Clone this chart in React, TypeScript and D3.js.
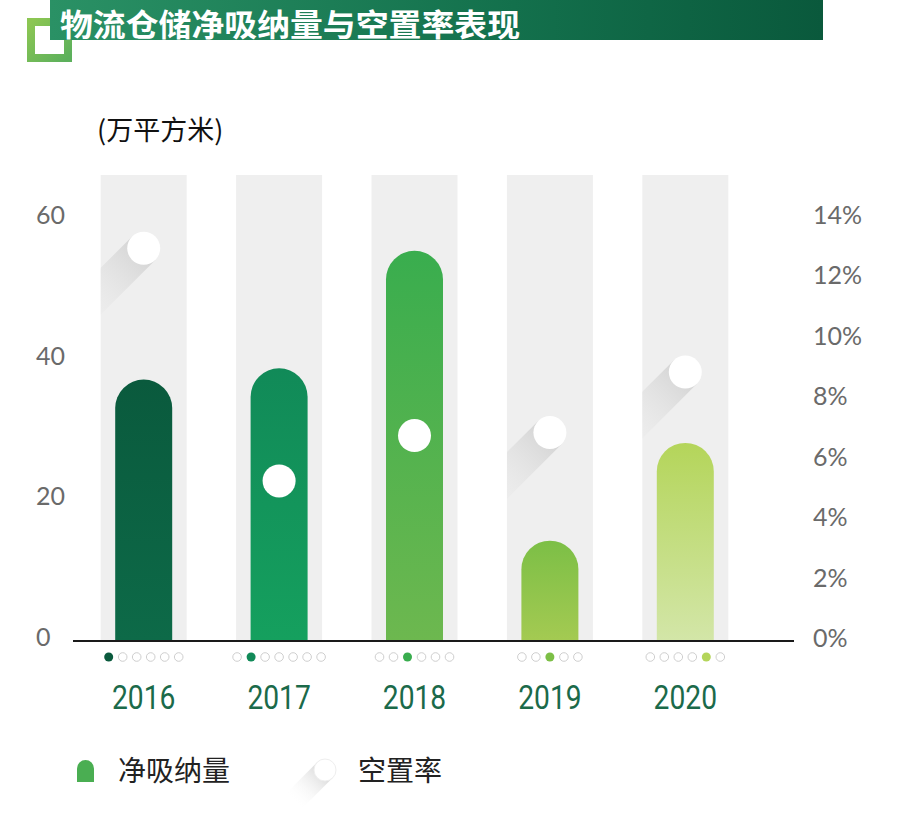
import React from "react";
import * as d3 from "d3";

const years = ["2016", "2017", "2018", "2019", "2020"];
const absorption = [36.6, 38.2, 54.9, 13.7, 27.6];
const vacancy = [12.9, 5.2, 6.7, 6.8, 8.8];
const leftTicks = [0, 20, 40, 60];
const rightTicks = [0, 2, 4, 6, 8, 10, 12, 14];
const barTop = ["#0a5a3d", "#118a58", "#39ad4e", "#7cbf46", "#b4d55a"];
const barBottom = ["#0d6a48", "#15a05e", "#6db84f", "#a4ca52", "#d3e6a8"];
const dotCounts = [6, 7, 6, 5, 6];
const dotActive = [0, 1, 2, 2, 4];
const title = "物流仓储净吸纳量与空置率表现";
const unitLabel = "(万平方米)";
const legendBar = "净吸纳量";
const legendDot = "空置率";

const W = 900;
const H = 837;
const axisY = 641;
const colTop = 175;
const colW = 86;
const barW = 57;
const circR = 16.5;
const sq = Math.SQRT1_2;

function roundTopPath(cx: number, w: number, yTop: number, yBot: number) {
  const r = w / 2;
  const x0 = cx - r;
  const x1 = cx + r;
  const p = d3.path();
  p.moveTo(x0, yBot);
  p.lineTo(x0, yTop + r);
  p.arc(cx, yTop + r, r, Math.PI, 0, false);
  p.lineTo(x1, yBot);
  p.closePath();
  return p.toString();
}

function shadowPts(cx: number, cy: number, r: number, L: number) {
  const nx = r * sq, ny = r * sq;
  const dx = -L * sq, dy = L * sq;
  return [
    [cx + nx, cy + ny],
    [cx + nx + dx, cy + ny + dy],
    [cx - nx + dx, cy - ny + dy],
    [cx - nx, cy - ny],
  ]
    .map((p) => p.join(","))
    .join(" ");
}

export default function App() {
  const x = d3.scaleBand<string>().domain(years).range([76, 753]).paddingInner(0).paddingOuter(0);
  const cxOf = (y: string) => (x(y) as number) + x.bandwidth() / 2;
  const yL = d3.scaleLinear().domain([0, 60]).range([637, 215]);
  const yR = d3.scaleLinear().domain([0, 14]).range([638, 215]);
  const L = 110;
  const cjk = "'Noto Sans CJK SC', 'Noto Sans', sans-serif";

  return (
    <svg width={W} height={H} style={{ display: "block", position: "absolute", left: 0, top: 0 }}>
      <defs>
        <linearGradient id="titleGrad" x1="0" x2="1" y1="0" y2="0">
          <stop offset="0" stopColor="#2a9165" />
          <stop offset="0.6" stopColor="#13704c" />
          <stop offset="1" stopColor="#0a593c" />
        </linearGradient>
        <linearGradient id="frameGrad" x1="0" x2="1" y1="0" y2="1">
          <stop offset="0" stopColor="#8cc653" />
          <stop offset="1" stopColor="#5cb05c" />
        </linearGradient>
        {years.map((y, i) => (
          <linearGradient key={y} id={`bar${i}`} x1="0" x2="0" y1="0" y2="1">
            <stop offset="0" stopColor={barTop[i]} />
            <stop offset="1" stopColor={barBottom[i]} />
          </linearGradient>
        ))}
        {years.map((y, i) => {
          const cx = cxOf(y);
          return (
            <clipPath key={y} id={`col${i}`}>
              <rect x={cx - colW / 2} y={colTop} width={colW} height={axisY - colTop} />
            </clipPath>
          );
        })}
        {years.map((y, i) => {
          const cx = cxOf(y);
          const cy = yR(vacancy[i]);
          return (
            <linearGradient
              key={y}
              id={`sh${i}`}
              gradientUnits="userSpaceOnUse"
              x1={cx}
              y1={cy}
              x2={cx - L * sq}
              y2={cy + L * sq}
            >
              <stop offset="0" stopColor="#d2d2d2" stopOpacity="0.95" />
              <stop offset="1" stopColor="#efefef" stopOpacity="0" />
            </linearGradient>
          );
        })}
        <linearGradient id="shLeg" gradientUnits="userSpaceOnUse" x1={325} y1={770} x2={325 - 45 * sq} y2={770 + 45 * sq}>
          <stop offset="0" stopColor="#d4d4d4" stopOpacity="0.95" />
          <stop offset="1" stopColor="#ffffff" stopOpacity="0" />
        </linearGradient>
      </defs>

      {/* title decoration */}
      <rect x={31} y={22} width={37} height={36} fill="#fff" stroke="url(#frameGrad)" strokeWidth={8} />
      <rect x={50} y={0} width={773} height={40} fill="url(#titleGrad)" />
      <text x={60} y={36} fill="#fff" fontFamily={cjk} fontWeight={700} fontSize={31} textLength={460} lengthAdjust="spacingAndGlyphs">
        {title}
      </text>

      {/* unit */}
      <text x={97} y={140} fontFamily={cjk} fontSize={27} fill="#111">
        {unitLabel}
      </text>

      {/* columns */}
      {years.map((y) => {
        const cx = cxOf(y);
        return <rect key={y} x={cx - colW / 2} y={colTop} width={colW} height={axisY - colTop} fill="#efefef" />;
      })}

      {/* long shadows (only where circle sits above its bar) */}
      {years.map((y, i) => {
        const cx = cxOf(y);
        const cy = yR(vacancy[i]);
        if (cy > yL(absorption[i])) return null;
        return (
          <polygon key={y} points={shadowPts(cx, cy, circR, L)} fill={`url(#sh${i})`} clipPath={`url(#col${i})`} />
        );
      })}

      {/* bars */}
      {years.map((y, i) => {
        const cx = cxOf(y);
        return <path key={y} d={roundTopPath(cx, barW, yL(absorption[i]), axisY)} fill={`url(#bar${i})`} />;
      })}

      {/* circles */}
      {years.map((y, i) => (
        <circle key={y} cx={cxOf(y)} cy={yR(vacancy[i])} r={circR} fill="#fff" />
      ))}

      {/* axis line */}
      <line x1={73} x2={794} y1={axisY} y2={axisY} stroke="#1a1a1a" strokeWidth={2} />

      {/* left ticks */}
      {leftTicks.map((t) => (
        <text key={t} x={36} y={yL(t)} dy="0.36em" fontFamily="Lato, sans-serif" fontSize={25} fill="#6a6a6a">
          {t}
        </text>
      ))}
      {/* right ticks */}
      {rightTicks.map((t) => (
        <text key={t} x={813} y={yR(t)} dy="0.36em" fontFamily="Lato, sans-serif" fontSize={25} fill="#6a6a6a">
          {t}%
        </text>
      ))}

      {/* page dots */}
      {years.map((y, i) => {
        const cx = cxOf(y);
        const n = dotCounts[i];
        const sp = 14;
        const start = cx - ((n - 1) * sp) / 2;
        return (
          <g key={y}>
            {d3.range(n).map((k) =>
              k === dotActive[i] ? (
                <circle key={k} cx={start + k * sp} cy={657} r={4.5} fill={barTop[i]} />
              ) : (
                <circle key={k} cx={start + k * sp} cy={657} r={4.3} fill="#fff" stroke="#cfcfcf" strokeWidth={1} />
              )
            )}
          </g>
        );
      })}

      {/* year labels */}
      {years.map((y) => {
        const cx = cxOf(y);
        return (
          <text
            key={y}
            x={0}
            y={697}
            dy="0.36em"
            textAnchor="middle"
            transform={`translate(${cx},0) scale(0.83,1)`}
            fontFamily="Roboto, sans-serif"
            fontWeight={400}
            fontSize={34}
            fill="#1b6a4a"
          >
            {y}
          </text>
        );
      })}

      {/* legend */}
      <path d={roundTopPath(85.5, 17, 760, 782)} fill="#4aae52" />
      <text x={118} y={771} dy="0.36em" fontFamily={cjk} fontSize={28} fill="#222">
        {legendBar}
      </text>
      <polygon points={shadowPts(325, 770, 11, 45)} fill="url(#shLeg)" />
      <circle cx={325} cy={770} r={11} fill="#fff" stroke="#eeeeee" strokeWidth={1} />
      <text x={358} y={771} dy="0.36em" fontFamily={cjk} fontSize={28} fill="#222">
        {legendDot}
      </text>
    </svg>
  );
}
